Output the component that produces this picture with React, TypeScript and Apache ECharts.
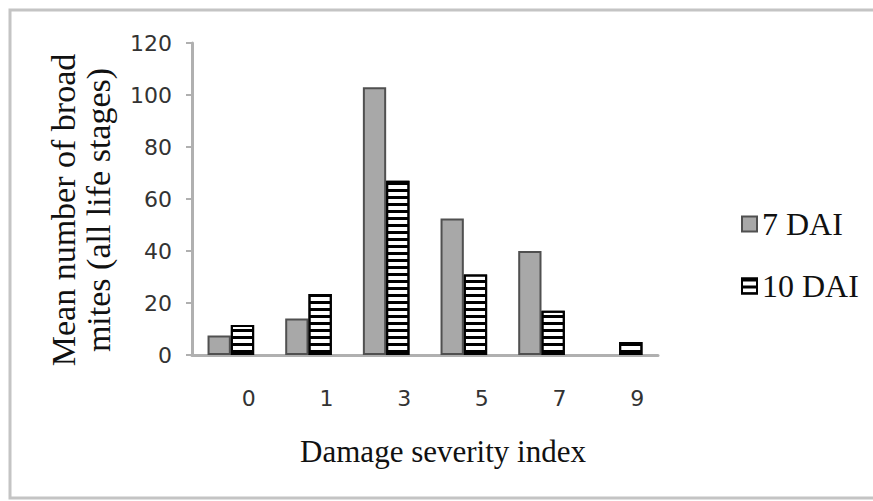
import React, { useEffect, useRef } from "react";
import * as echarts from "echarts";

const categories = ["0", "1", "3", "5", "7", "9"];
const dai7 = [7.5, 14, 103, 52.5, 40, 0];
const dai10 = [11.5, 23.5, 67, 31, 17, 5];
const seriesNames = ["7 DAI", "10 DAI"];
const yTitle = "Mean number of broad\nmites (all life stages)";
const xTitle = "Damage severity index";

export default function App() {
  const ref = useRef<HTMLDivElement>(null);
  useEffect(() => {
    if (!ref.current) return;
    const chart = echarts.init(ref.current, undefined, { renderer: "svg" });
    const serif = "'Liberation Serif', 'Times New Roman', serif";
    const sans = "'DejaVu Sans', Verdana, sans-serif";
    const toData = (arr: number[]) =>
      arr.map((v) => (v === 0 ? { value: v, itemStyle: { borderWidth: 0 } } : v));
    chart.setOption({
      animation: false,
      backgroundColor: "#ffffff",
      graphic: [
        {
          type: "rect",
          shape: { x: 10, y: 10, width: 880, height: 488 },
          style: { fill: "none", stroke: "#c4c4c4", lineWidth: 3 },
          silent: true,
        },
      ],
      grid: { left: 192, right: 215, top: 43, bottom: 146, containLabel: false },
      legend: {
        orient: "vertical",
        left: 736,
        top: 201,
        itemWidth: 15,
        itemHeight: 15,
        itemGap: 26,
        icon: "rect",
        textStyle: { fontFamily: serif, fontSize: 32, color: "#111", lineHeight: 36 },
        data: seriesNames,
      },
      xAxis: {
        type: "category",
        data: categories,
        axisLine: { show: true, lineStyle: { color: "#b0b0b0", width: 3 } },
        axisTick: { show: false },
        axisLabel: {
          fontFamily: sans,
          fontSize: 22,
          color: "#333",
          margin: 32,
          padding: [0, 0, 0, 36],
        },
        name: xTitle,
        nameLocation: "middle",
        nameGap: 78,
        nameTextStyle: {
          fontFamily: serif,
          fontSize: 31,
          color: "#111",
          lineHeight: 36,
          padding: [0, 0, 0, 36],
        },
      },
      yAxis: {
        type: "value",
        min: 0,
        max: 120,
        interval: 20,
        splitLine: { show: false },
        axisLine: { show: true, lineStyle: { color: "#b0b0b0", width: 3 } },
        axisTick: { show: true, length: 6, lineStyle: { color: "#b0b0b0", width: 2 } },
        axisLabel: { fontFamily: sans, fontSize: 22, color: "#333", margin: 20 },
        name: yTitle,
        nameLocation: "middle",
        nameGap: 76,
        nameTextStyle: {
          fontFamily: serif,
          fontSize: 34,
          color: "#111",
          lineHeight: 35,
          padding: [0, 22, 0, 0],
        },
      },
      series: [
        {
          name: seriesNames[0],
          type: "bar",
          data: toData(dai7),
          barGap: "0%",
          barCategoryGap: "40%",
          itemStyle: { color: "#a8a8a8", borderColor: "#505050", borderWidth: 2 },
        },
        {
          name: seriesNames[1],
          type: "bar",
          data: toData(dai10),
          barGap: "0%",
          barCategoryGap: "40%",
          itemStyle: {
            color: "#ffffff",
            borderColor: "#000000",
            borderWidth: 2,
            decal: {
              symbol: "rect",
              symbolSize: 1,
              color: "#000000",
              dashArrayX: [1, 0],
              dashArrayY: [3, 4],
              rotation: 0,
            },
          },
        },
      ],
    });
    return () => chart.dispose();
  }, []);
  return (
    <div
      ref={ref}
      style={{ position: "fixed", left: 0, top: 0, width: 873, height: 501 }}
    />
  );
}
